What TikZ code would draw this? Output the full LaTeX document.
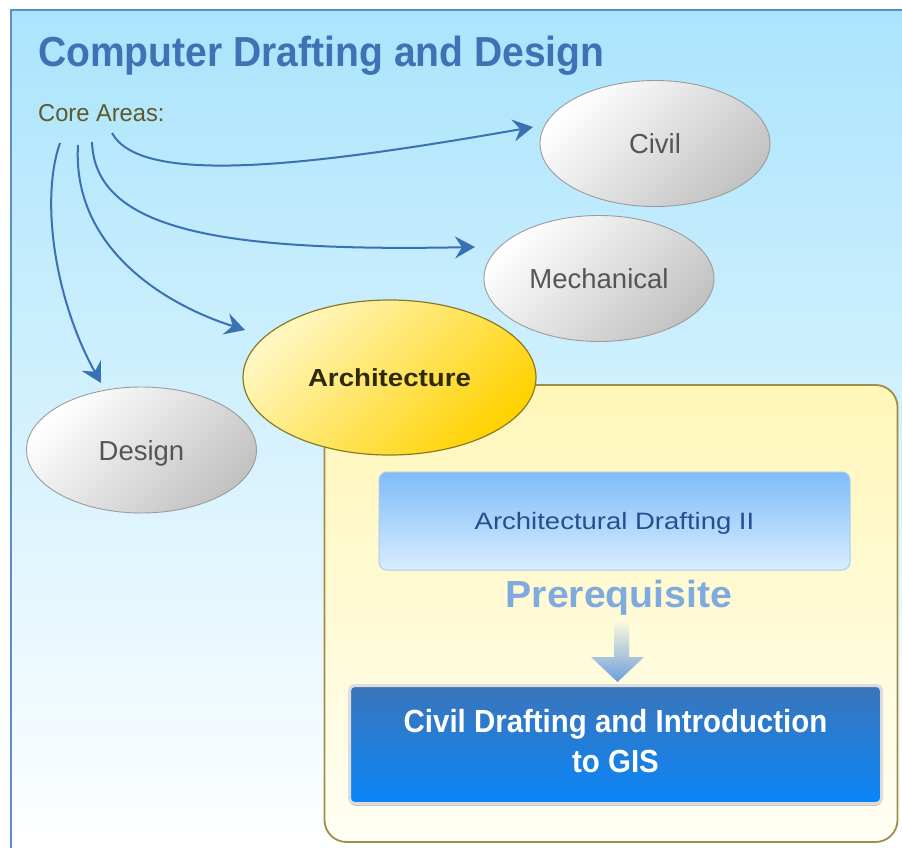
\documentclass[tikz,border=0pt]{standalone}
\usepackage{fontspec}
\setmainfont{Liberation Sans}
\usepackage{graphicx}
\usetikzlibrary{shapes.geometric,arrows.meta,shadows}
\newcommand{\hsc}[2]{\scalebox{#1}[1]{#2}}
\definecolor{frameblue}{HTML}{5C8ECC}
\definecolor{skytop}{HTML}{AAE4FC}
\definecolor{skymid}{HTML}{CAEEFD}
\definecolor{titleblue}{HTML}{3D72B5}
\definecolor{coreolive}{HTML}{5E5A2C}
\definecolor{arrowblue}{HTML}{3A71B5}
\definecolor{ellborder}{HTML}{9B9B9B}
\definecolor{ellgray}{HTML}{C2C2C2}
\definecolor{graytext}{HTML}{555555}
\definecolor{archlight}{HTML}{FFF7C2}
\definecolor{archgold}{HTML}{FFD200}
\definecolor{archborder}{HTML}{8A7A20}
\definecolor{archtext}{HTML}{2E2A08}
\definecolor{boxtop}{HTML}{FFF6B8}
\definecolor{boxbot}{HTML}{FFFEF3}
\definecolor{boxborder}{HTML}{9E8E4A}
\definecolor{bonetop}{HTML}{7FBCF9}
\definecolor{bonebot}{HTML}{D9EDFF}
\definecolor{boneborder}{HTML}{A8CCF0}
\definecolor{bonetext}{HTML}{24508F}
\definecolor{prereqblue}{HTML}{7EAAE0}
\definecolor{prearrowtop}{HTML}{FFFBDC}
\definecolor{prearrow}{HTML}{6D9FDC}
\definecolor{btwotop}{HTML}{3B75BA}
\definecolor{btwobot}{HTML}{0A85F7}
\definecolor{btwoframe}{HTML}{DCDCDC}
\begin{document}
\begin{tikzpicture}[x=1pt,y=-1pt,
  grayell/.style={ellipse, inner sep=0pt, outer sep=0pt, draw=ellborder, line width=0.9pt,
    top color=white, bottom color=ellgray, shading angle=45, text=graytext,
    font=\fontsize{27.5}{30}\selectfont, text height=20pt, text depth=0pt,
    minimum width=230pt, minimum height=126pt},
  archell/.style={ellipse, inner sep=0pt, outer sep=0pt, draw=archborder, line width=1.2pt,
    top color=archlight, bottom color=archgold, shading angle=45, text=archtext,
    font=\bfseries\fontsize{24.7}{28}\selectfont, text height=17.7pt, text depth=0pt,
    minimum width=293pt, minimum height=155pt},
  yellowbox/.style={rectangle, rounded corners=22pt, draw=boxborder, line width=1.8pt,
    top color=boxtop, bottom color=boxbot},
  boxone/.style={rectangle, rounded corners=8pt, draw=boneborder, line width=1pt,
    top color=bonetop, bottom color=bonebot, text=bonetext,
    font=\fontsize{23.7}{26}\selectfont, text height=17pt, text depth=0pt},
  boxtwo/.style={rectangle, rounded corners=5pt, draw=btwoframe, line width=3pt,
    top color=btwotop, bottom color=btwobot,
    drop shadow={shadow xshift=0pt, shadow yshift=-2pt, opacity=0.35, fill=black}},
  boxtwotext/.style={text=white, align=center, font=\bfseries\fontsize{32}{40}\selectfont},
  conn/.style={draw=arrowblue, line width=2pt, -{Stealth[length=20pt,width=22pt,inset=7pt]}}
]
\useasboundingbox (0,0) rectangle (902,848);
\fill[white] (0,0) rectangle (902,848);
\shade[top color=skytop, middle color=skymid, bottom color=white] (10,10) rectangle (902,848);
\draw[frameblue, line width=2pt] (10.5,848) -- (10.5,10.5) -- (902,10.5);

\node[anchor=base west, text=titleblue, font=\bfseries\fontsize{42}{46}\selectfont, inner sep=0pt] (title) at (38,67) {\hsc{0.93}{Computer Drafting and Design}};
\node[anchor=base west, text=coreolive, font=\fontsize{24.4}{28}\selectfont, inner sep=0pt] (core) at (38,121.5) {\hsc{0.97}{Core Areas:}};

\node[yellowbox, minimum width=573pt, minimum height=457pt] (archbox) at (611,613.5) {};
\node[boxone, minimum width=471pt, minimum height=98pt] (adraft) at (614.5,521) {\hsc{1.16}{Architectural Drafting II}};
\node[anchor=base, text=prereqblue, font=\bfseries\fontsize{37.7}{40}\selectfont, inner sep=0pt] (prereq) at (619,607) {\hsc{1.04}{Prerequisite}};
\shade[top color=prearrowtop, bottom color=prearrow] (614,620) -- (629,620) -- (629,657) -- (644,657) -- (617.5,682) -- (591,657) -- (614,657) -- cycle;
\node[boxtwo, minimum width=532pt, minimum height=118pt] (cdraft) at (615.5,744.5) {};
\node[boxtwotext] (cdrafttext) at ([yshift=3pt]cdraft.center) {\hsc{0.92}{Civil Drafting and Introduction}\\\hsc{0.92}{to GIS}};

\node[grayell] (civil) at (655,143.5) {Civil};
\node[grayell] (mech) at (599,278.5) {Mechanical};
\node[grayell] (design) at (141.5,450) {Design};
\node[archell] (arch) at (389.5,377.5) {\hsc{1.12}{Architecture}};

\coordinate (s1) at (112,133);
\coordinate (s2) at (92,142);
\coordinate (s3) at (78,145);
\coordinate (s4) at (60,143);
\coordinate (t1) at (533,127);
\coordinate (t2) at (475,247);
\coordinate (t3) at (245,330);
\coordinate (t4) at (101,383);
\draw[conn] (s1) .. controls (140,185) and (300,168) .. (t1);
\draw[conn] (s2) .. controls (95,230) and (220,252) .. (t2);
\draw[conn] (s3) .. controls (72,245) and (160,303) .. (t3);
\draw[conn] (s4) .. controls (40,200) and (55,300) .. (t4);
\end{tikzpicture}
\end{document}
